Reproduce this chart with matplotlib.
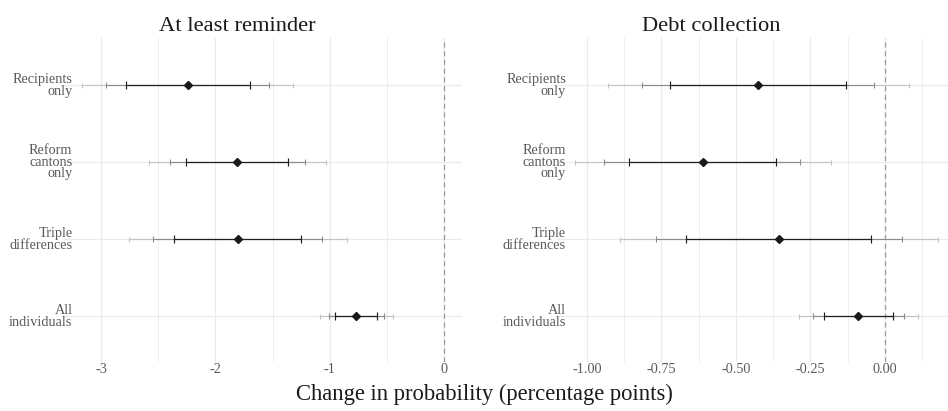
import matplotlib
matplotlib.use("Agg")
import matplotlib.pyplot as plt
from matplotlib.ticker import MultipleLocator

plt.rcParams['font.family'] = ['Liberation Serif', 'DejaVu Serif']

categories = ["Recipients\nonly", "Reform\ncantons\nonly", "Triple\ndifferences", "All\nindividuals"]

# Panel 1: At least reminder
rem_est = [-2.24, -1.81, -1.805, -0.767]
rem_lo90 = [-2.785, -2.257, -2.362, -0.951]
rem_hi90 = [-1.70, -1.362, -1.248, -0.584]
rem_lo95 = [-2.96, -2.40, -2.543, -1.006]
rem_hi95 = [-1.53, -1.213, -1.067, -0.522]
rem_lo99 = [-3.17, -2.584, -2.759, -1.082]
rem_hi99 = [-1.32, -1.032, -0.851, -0.449]

# Panel 2: Debt collection
debt_est = [-0.425, -0.611, -0.355, -0.0886]
debt_lo90 = [-0.720, -0.858, -0.666, -0.204]
debt_hi90 = [-0.130, -0.364, -0.045, 0.028]
debt_lo95 = [-0.815, -0.941, -0.769, -0.242]
debt_hi95 = [-0.035, -0.283, 0.056, 0.066]
debt_lo99 = [-0.929, -1.040, -0.889, -0.287]
debt_hi99 = [0.080, -0.180, 0.177, 0.110]

titles = ["At least reminder", "Debt collection"]
xlabel = "Change in probability (percentage points)"

W, H = 948, 411
fig = plt.figure(figsize=(W / 100, H / 100), dpi=100)

top_px, bot_px = 38.5, 362.0
ax1 = fig.add_axes([63.4 / W, 1 - bot_px / H, (462.0 - 63.4) / W, (bot_px - top_px) / H])
ax2 = fig.add_axes([557.0 / W, 1 - bot_px / H, (948.0 - 557.0) / W, (bot_px - top_px) / H])

ypos = [4, 3, 2, 1]

def draw(ax, est, lo90, hi90, lo95, hi95, lo99, hi99, xlim, major, minor, fmt):
    ax.set_xlim(*xlim)
    ax.set_ylim(0.4, 4.6)
    ax.xaxis.set_major_locator(MultipleLocator(major))
    ax.xaxis.set_minor_locator(MultipleLocator(minor))
    ax.set_yticks(ypos)
    ax.set_yticklabels(categories, linespacing=0.85, fontsize=10.3, color='#5a5a5a')
    ax.xaxis.set_major_formatter(matplotlib.ticker.FuncFormatter(fmt))
    ax.grid(True, which='major', axis='both', color='#ebebeb', lw=0.9)
    ax.grid(True, which='minor', axis='x', color='#ebebeb', lw=0.6)
    ax.set_axisbelow(True)
    for s in ax.spines.values():
        s.set_visible(False)
    ax.tick_params(axis='both', which='both', length=0)
    ax.tick_params(axis='x', labelsize=10.3, labelcolor='#5a5a5a', pad=0.5)
    ax.tick_params(axis='y', pad=-6.5)
    ax.axvline(0, color='#9a9a9a', lw=0.9, ls=(0, (4, 3)), zorder=1)
    for i, y in enumerate(ypos):
        ax.errorbar([est[i]], [y], xerr=[[est[i] - lo99[i]], [hi99[i] - est[i]]], fmt='none',
                    ecolor='#c4c4c4', elinewidth=0.8, capsize=1.8, capthick=0.8, zorder=2)
        ax.errorbar([est[i]], [y], xerr=[[est[i] - lo95[i]], [hi95[i] - est[i]]], fmt='none',
                    ecolor='#8c8c8c', elinewidth=0.8, capsize=2.35, capthick=0.8, zorder=3)
        ax.errorbar([est[i]], [y], xerr=[[est[i] - lo90[i]], [hi90[i] - est[i]]], fmt='none',
                    ecolor='#1e1e1e', elinewidth=0.85, capsize=2.9, capthick=0.85, zorder=4)
    ax.plot(est, ypos, ls='none', marker='D', ms=4.0, color='#1a1a1a', zorder=5)

draw(ax1, rem_est, rem_lo90, rem_hi90, rem_lo95, rem_hi95, rem_lo99, rem_hi99,
     (-3.33, 0.158), 1.0, 0.5, lambda v, p: "0" if abs(v) < 1e-9 else f"{v:.0f}")
draw(ax2, debt_est, debt_lo90, debt_hi90, debt_lo95, debt_hi95, debt_lo99, debt_hi99,
     (-1.10, 0.212), 0.25, 0.125, lambda v, p: "0.00" if abs(v) < 1e-9 else f"{v:.2f}")

fig.text(237 / W, 1 - 31 / H, titles[0], ha='center', va='baseline', fontsize=16.2, color='#1a1a1a')
fig.text(711 / W, 1 - 31 / H, titles[1], ha='center', va='baseline', fontsize=16.2, color='#1a1a1a')
fig.text(484 / W, 1 - 400 / H, xlabel, ha='center', va='baseline', fontsize=16.3, color='#1a1a1a')

fig.savefig("out.png", dpi=100)
